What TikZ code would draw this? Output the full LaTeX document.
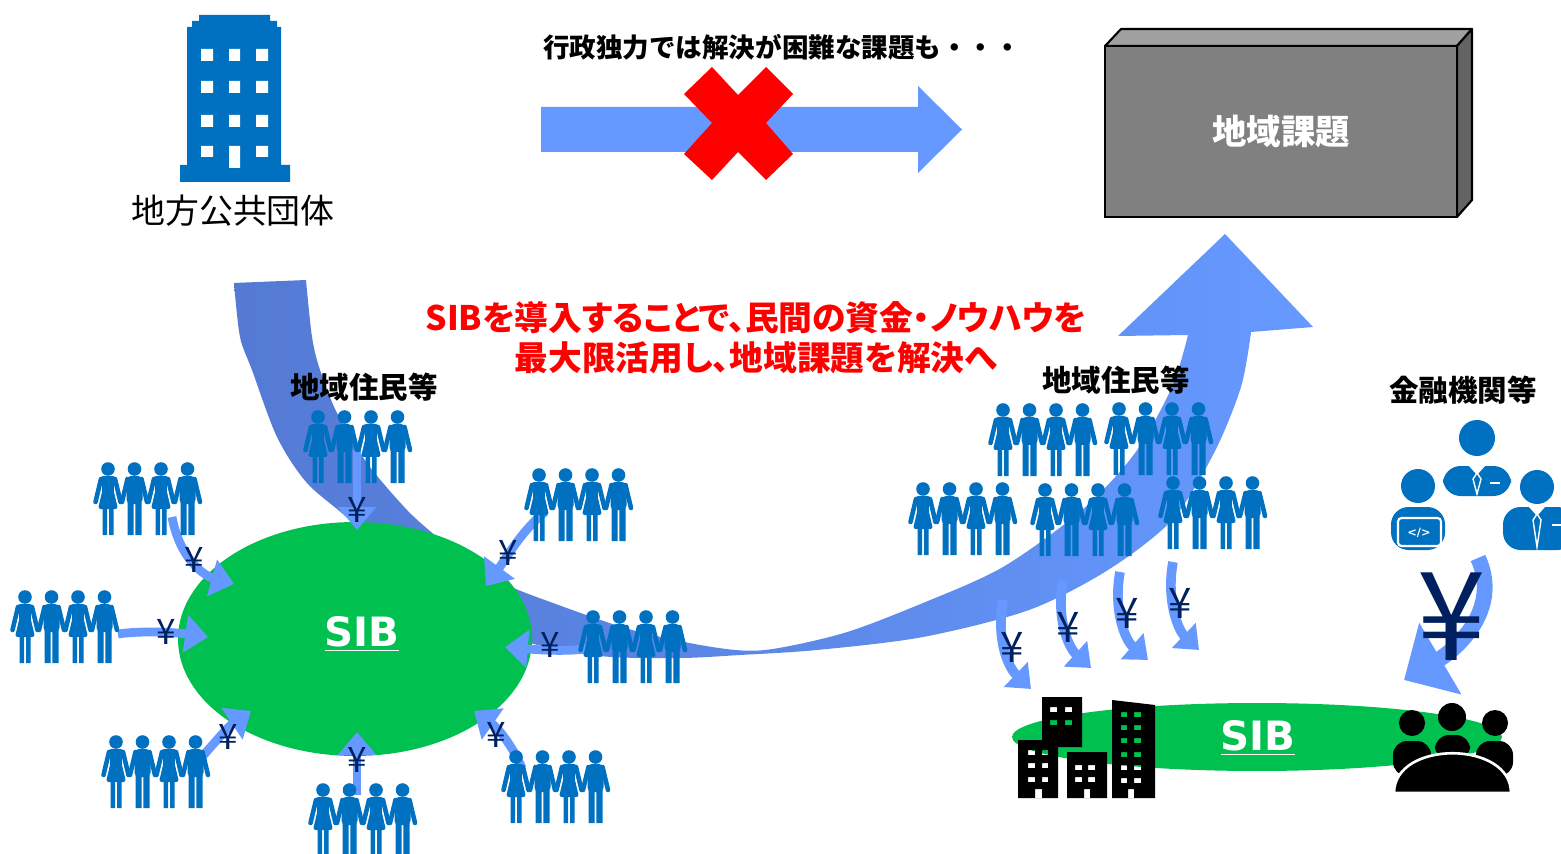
\documentclass[tikz,border=0pt]{standalone}
\usepackage{fontspec}
\setmainfont{Noto Sans CJK JP}
\newfontfamily\jpprop{Noto Sans CJK JP}[RawFeature=+palt]
\newfontfamily\latinbold{DejaVu Sans}
\usetikzlibrary{positioning, arrows.meta, shapes.geometric}
\definecolor{iconblue}{RGB}{0,112,192}
\definecolor{arrowblue}{RGB}{102,153,255}
\definecolor{banddark}{RGB}{84,122,212}
\definecolor{sibgreen}{RGB}{0,192,80}
\definecolor{yennavy}{RGB}{0,32,96}
\definecolor{boxfront}{RGB}{128,128,128}
\definecolor{boxtop}{RGB}{160,160,160}
\definecolor{boxside}{RGB}{100,100,100}

\begin{document}
\begin{tikzpicture}[x=0.02cm, y=-0.02cm,
  every node/.style={inner sep=0pt},
  heading/.style={font=\bfseries\fontsize{16.8}{18}\selectfont},
  yenarrow/.style={draw=arrowblue, line width=5pt, -{Triangle[width=21pt, length=13pt]}},
  yenarrowr/.style={draw=arrowblue, line width=5.5pt, -{Triangle[width=19pt, length=12pt]}},
  yen/.style={text=yennavy, font=\fontsize{20}{20}\selectfont},
  yenr/.style={text=yennavy, font=\fontsize{24}{24}\selectfont},
  sibtext/.style={text=white, font=\latinbold\bfseries\fontsize{23}{23}\selectfont},
  pics/crowd/.style={code={
    \foreach \cx/\g in {13/0, 39.5/1, 66/0, 92.5/1}{
      \fill[iconblue] (\cx,7) circle[radius=6.8];
      \draw[iconblue, line width=2.6pt, line cap=round] (\cx-7,17) -- (\cx-12.5,40) (\cx+7,17) -- (\cx+12.5,40);
      \ifnum\g=0
        \fill[iconblue, rounded corners=1.5] (\cx-7.5,14) -- (\cx+7.5,14) -- (\cx+5.5,28) -- (\cx+10,47) -- (\cx-10,47) -- (\cx-5.5,28) -- cycle;
        \fill[iconblue] (\cx-5.5,46) rectangle (\cx-1,73) (\cx+1,46) rectangle (\cx+5.5,73);
      \else
        \fill[iconblue, rounded corners=2.5] (\cx-8,42) -- (\cx-8,14) -- (\cx+8,14) -- (\cx+8,42) -- cycle;
        \fill[iconblue] (\cx-7,40) rectangle (\cx-0.8,73) (\cx+0.8,40) rectangle (\cx+7,73);
      \fi
    }
  }}]
 \fill[white] (0,0) rectangle (1561,854);
 \useasboundingbox (0,0) rectangle (1561,854);

 \fill[iconblue] (199,15) rectangle (270,22) (192,21) rectangle (277,28) (187,27) rectangle (281,166) (180,165) rectangle (290,182);
 \fill[white] (201,49) rectangle (213,61) (229,49) rectangle (240,61) (256,49) rectangle (268,61)
              (201,81) rectangle (213,93) (229,81) rectangle (240,93) (256,81) rectangle (268,93)
              (201,115) rectangle (213,127) (229,115) rectangle (240,127) (256,115) rectangle (268,127)
              (201,146) rectangle (213,157) (229,146) rectangle (240,168) (256,146) rectangle (268,157);
 \node[font=\fontsize{19.3}{20}\selectfont] (govt) at (233,211) {地方公共団体};

 \node[font=\bfseries\fontsize{15.1}{16}\selectfont] (limit) at (782,47) {行政独力では解決が困難な課題も・・・};
 \fill[arrowblue] (541,107) -- (918,107) -- (918,86) -- (962,129.5) -- (918,173) -- (918,152) -- (541,152) -- cycle;
 \fill[red] (684,94) -- (712,67) -- (738,95) -- (766,67) -- (793,94) -- (766,123) -- (793,154) -- (766,180) -- (738,152) -- (712,180) -- (684,154) -- (712,123) -- cycle;

 \filldraw[fill=boxtop, draw=black, line width=1.2pt, line join=round] (1105,46) -- (1121,29) -- (1472,29) -- (1457,46) -- cycle;
 \filldraw[fill=boxside, draw=black, line width=1.2pt, line join=round] (1457,46) -- (1472,29) -- (1472,200) -- (1457,217) -- cycle;
 \filldraw[fill=boxfront, draw=black, line width=1.2pt] (1105,46) rectangle (1457,217);
 \node[text=white, font=\bfseries\fontsize{19.6}{20}\selectfont] (issue) at (1281,132) {地域課題};

 \shade[left color=banddark, right color=arrowblue, middle color=banddark!55!arrowblue]
   plot[smooth] coordinates {(234,283) (240,337) (252,370) (277,437) (307,483) (353,523) (430,600) (520,640) (600,656) (680,658) (740,655) (817,650) (923,637) (1029,610) (1108,570) (1172,520) (1214,453) (1241,387) (1251,332)}
   -- (1313,327) -- (1225,234) -- (1118,336)
   -- plot[smooth] coordinates {(1188,335) (1172,387) (1135,453) (1082,510) (1003,567) (923,603) (844,633) (765,650) (712,647) (632,630) (553,603) (500,582) (460,556) (437,537) (407,510) (367,463) (337,413) (320,370) (312,337) (306,280)}
   -- cycle;

 \node[text=red, align=center, font=\jpprop\bfseries\fontsize{19.2}{22.7}\selectfont] (msg) at (756,338) {SIBを導入することで、民間の資金・ノウハウを\\最大限活用し、地域課題を解決へ};

 \node[ellipse, fill=sibgreen, minimum width=7.08cm, minimum height=4.68cm] (sib) at (355,639) {};
 \node[sibtext] (siblabel) at (362,634) {\underline{SIB}};

 \draw[yenarrow] (357,450) -- (357,530);
 \draw[yenarrow] (172,517) .. controls (180,560) and (205,576) .. (234,584);
 \draw[yenarrow] (118,634) .. controls (145,630) and (180,633) .. (208,637);
 \draw[yenarrow] (202,757) .. controls (215,742) and (230,725) .. (251,711);
 \draw[yenarrow] (357,795) -- (357,732);
 \draw[yenarrow] (522,768) .. controls (512,745) and (497,727) .. (474,711);
 \draw[yenarrow] (592,648) .. controls (570,652) and (540,650) .. (505,647);
 \draw[yenarrow] (545,512) .. controls (522,530) and (505,560) .. (486,586);

 \node[heading] (residentsl) at (364,387) {地域住民等};
 \pic at (305,410) {crowd};
 \pic at (95,462) {crowd};
 \pic at (12,590) {crowd};
 \pic at (103,735) {crowd};
 \pic at (310,783) {crowd};
 \pic at (503,750) {crowd};
 \pic at (580,610) {crowd};
 \pic at (526,468) {crowd};

 \node[yen] (yen1) at (357,510) {¥};
 \node[yen] (yen2) at (194,560) {¥};
 \node[yen] (yen3) at (166,632) {¥};
 \node[yen] (yen4) at (228,737) {¥};
 \node[yen] (yen5) at (357,760) {¥};
 \node[yen] (yen6) at (496,735) {¥};
 \node[yen] (yen7) at (550,645) {¥};
 \node[yen] (yen8) at (508,553) {¥};

 \node[heading] (residentsr) at (1116,380) {地域住民等};
 \pic at (990,403) {crowd};
 \pic at (1106,402) {crowd};
 \pic at (910,482) {crowd};
 \pic at (1032,483) {crowd};
 \pic at (1160,476) {crowd};

 \draw[yenarrowr] (1003,600) .. controls (996,640) and (1008,667) .. (1031,689);
 \draw[yenarrowr] (1063,580) .. controls (1056,618) and (1068,647) .. (1091,668);
 \draw[yenarrowr] (1120,572) .. controls (1113,610) and (1125,640) .. (1148,660);
 \draw[yenarrowr] (1173,562) .. controls (1166,600) and (1178,630) .. (1199,650);
 \node[yenr] (yen9) at (1012,647) {¥};
 \node[yenr] (yen10) at (1068,627) {¥};
 \node[yenr] (yen11) at (1127,613) {¥};
 \node[yenr] (yen12) at (1180,603) {¥};

 \node[heading] (banks) at (1463,390) {金融機関等};
 \fill[iconblue] (1477,438) circle[radius=18];
 \fill[iconblue, rounded corners=10] (1443,496) -- (1443,466) -- (1511,466) -- (1511,496) -- cycle;
 \fill[white] (1469,466) -- (1477,475) -- (1485,466) -- cycle;
 \filldraw[fill=iconblue, draw=white, line width=0.8pt] (1477,473) -- (1473,479) -- (1477,494) -- (1481,479) -- cycle;
 \draw[white, line width=1.2pt] (1490,483) -- (1500,483);
 \fill[iconblue] (1418,486) circle[radius=17];
 \fill[iconblue, rounded corners=10] (1391,550) -- (1391,507) -- (1445,507) -- (1445,550) -- cycle;
 \filldraw[fill=iconblue, draw=white, line width=1.2pt, rounded corners=2] (1398,518) rectangle (1441,546);
 \node[text=white, font=\latinbold\bfseries\fontsize{6.5}{7}\selectfont] (code) at (1419,533) {</>};
 \fill[iconblue] (1537,487) circle[radius=17];
 \fill[iconblue, rounded corners=10] (1503,550) -- (1503,507) -- (1575,507) -- (1575,550) -- cycle;
 \fill[white] (1529,507) -- (1537,516) -- (1545,507) -- cycle;
 \filldraw[fill=iconblue, draw=white, line width=0.8pt] (1537,514) -- (1533,520) -- (1537,547) -- (1541,520) -- cycle;
 \draw[white, line width=1.2pt] (1552,525) -- (1561,525);

 \draw[draw=arrowblue, line width=9pt, -{Triangle[width=46pt, length=24pt]}] (1478,558) .. controls (1502,610) and (1455,650) .. (1404,680);
 \node[text=yennavy, font=\fontsize{70}{70}\selectfont] (yenbig) at (1452,617) {¥};

 \node[ellipse, fill=sibgreen, minimum width=9.8cm, minimum height=1.36cm] (sibbar) at (1257,737) {};
 \node[sibtext] (sibbarlabel) at (1258,738) {\underline{SIB}};

 \fill[even odd rule] (1042,697) rectangle (1082,747)
   (1050,707) rectangle (1057,712) (1065,707) rectangle (1072,712)
   (1050,720) rectangle (1057,725) (1065,720) rectangle (1072,725);
 \fill[even odd rule] (1018,740) rectangle (1058,798)
   (1028,750) rectangle (1035,755) (1042,750) rectangle (1048,755)
   (1028,763) rectangle (1035,768) (1042,763) rectangle (1048,768)
   (1028,777) rectangle (1035,782) (1042,777) rectangle (1048,782)
   (1035,789) rectangle (1042,798);
 \fill[even odd rule] (1067,752) rectangle (1107,798)
   (1075,765) rectangle (1082,770) (1088,765) rectangle (1095,770)
   (1075,777) rectangle (1082,782) (1088,777) rectangle (1095,782)
   (1084,789) rectangle (1090,798);
 \fill[even odd rule] (1112,700) -- (1155,705) -- (1155,798) -- (1112,798) -- cycle
   (1121,712) rectangle (1127,717) (1134,712) rectangle (1141,717)
   (1121,725) rectangle (1127,730) (1134,725) rectangle (1141,730)
   (1121,738) rectangle (1127,743) (1134,738) rectangle (1141,743)
   (1121,752) rectangle (1127,757) (1134,752) rectangle (1141,757)
   (1121,765) rectangle (1127,770) (1134,765) rectangle (1141,770)
   (1121,778) rectangle (1127,783) (1134,778) rectangle (1141,783)
   (1128,789) rectangle (1134,798);

 \fill (1412,723) circle[radius=13] (1452,717) circle[radius=14] (1495,723) circle[radius=13];
 \fill[rounded corners=8] (1393,776) -- (1393,741) -- (1431,741) -- (1431,776) -- cycle;
 \fill[rounded corners=8] (1435,760) -- (1435,735) -- (1470,735) -- (1470,760) -- cycle;
 \fill[rounded corners=8] (1476,776) -- (1476,741) -- (1513,741) -- (1513,776) -- cycle;
 \filldraw[fill=black, draw=white, line width=1.5pt] (1394,793) .. controls (1394,740) and (1511,740) .. (1511,793) -- cycle;
\end{tikzpicture}
\end{document}
